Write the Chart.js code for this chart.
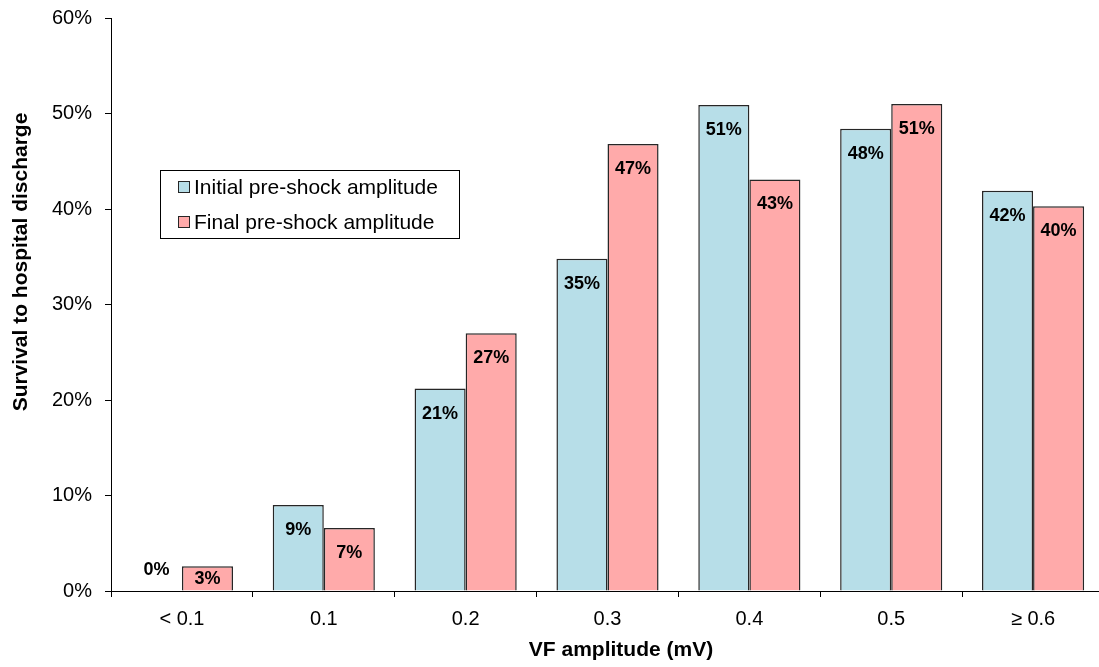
<!DOCTYPE html>
<html>
<head>
<meta charset="utf-8">
<script src="https://cdn.jsdelivr.net/npm/chart.js@4/dist/chart.umd.min.js"></script>
<style>
  html, body { margin: 0; padding: 0; background: #fff; overflow: hidden; }
  #wrap { width: 1104px; height: 667px; }
</style>
</head>
<body>
<div id="wrap"><canvas id="c" width="1104" height="667"></canvas></div>
<script>
// VF amplitude bins (mV)
const categories = ['< 0.1', '0.1', '0.2', '0.3', '0.4', '0.5', '\u2265 0.6'];
// Survival to hospital discharge (%) by amplitude bin
const initialAmplitude = [0, 9.0, 21.2, 34.8, 50.9, 48.4, 41.9];
const finalAmplitude = [2.6, 6.6, 27.0, 46.8, 43.1, 51.0, 40.3];
const seriesNames = ['Initial pre-shock amplitude', 'Final pre-shock amplitude'];
const yTicks = [0, 10, 20, 30, 40, 50, 60];

const FONT = "'Liberation Sans', Arial, sans-serif";
const BLUE = '#B7DEE8';
const PINK = '#FFAAAA';
const EDGE = '#262626';

// Percent labels drawn just inside the top of each bar
const valueLabels = {
  id: 'valueLabels',
  afterDatasetsDraw(chart) {
    const ctx = chart.ctx;
    ctx.save();
    ctx.font = 'bold 18px ' + FONT;
    ctx.fillStyle = '#000';
    ctx.textAlign = 'center';
    ctx.textBaseline = 'middle';
    chart.data.datasets.forEach((ds, di) => {
      chart.getDatasetMeta(di).data.forEach((el, i) => {
        const v = ds.data[i];
        let y;
        if (v === 0) y = el.base - 21;
        else y = Math.min(el.y + 25, el.base - 11);
        ctx.fillText(Math.round(v) + '%', el.x, y);
      });
    });
    ctx.restore();
  }
};

// Axis titles and the boxed legend inside the plot
const decorations = {
  id: 'decorations',
  afterDraw(chart) {
    const ctx = chart.ctx;
    ctx.save();
    ctx.fillStyle = '#000';
    ctx.font = 'bold 21px ' + FONT;
    ctx.textAlign = 'center';
    ctx.textBaseline = 'middle';
    ctx.fillText('VF amplitude (mV)', 621, 650);
    ctx.translate(21, 262);
    ctx.rotate(-Math.PI / 2);
    ctx.fillText('Survival to hospital discharge', 0, 0);
    ctx.restore();

    ctx.save();
    ctx.fillStyle = '#fff';
    ctx.fillRect(160.5, 170.5, 299, 68);
    ctx.strokeStyle = '#000';
    ctx.lineWidth = 1;
    ctx.strokeRect(160.5, 170.5, 299, 68);
    ctx.font = '21px ' + FONT;
    ctx.textAlign = 'left';
    ctx.textBaseline = 'middle';
    const rows = [187, 222];
    chart.data.datasets.forEach((ds, i) => {
      const y = rows[i];
      ctx.fillStyle = ds.backgroundColor;
      ctx.fillRect(178.5, y - 5.5, 11, 11);
      ctx.strokeStyle = EDGE;
      ctx.strokeRect(178.5, y - 5.5, 11, 11);
      ctx.fillStyle = '#000';
      ctx.fillText(ds.label, 194, y + 1);
    });
    ctx.restore();
  }
};

new Chart(document.getElementById('c'), {
  type: 'bar',
  data: {
    labels: categories,
    datasets: [
      { label: seriesNames[0], data: initialAmplitude, backgroundColor: BLUE, borderColor: EDGE, borderWidth: 1.5, borderSkipped: 'bottom' },
      { label: seriesNames[1], data: finalAmplitude, backgroundColor: PINK, borderColor: EDGE, borderWidth: 1.5, borderSkipped: 'bottom' }
    ]
  },
  options: {
    responsive: false,
    animation: false,
    devicePixelRatio: 1,
    layout: { padding: { top: 18, left: 0, right: 0, bottom: 0 } },
    plugins: { legend: { display: false }, tooltip: { enabled: false } },
    datasets: { bar: { categoryPercentage: 0.72, barPercentage: 1.0 } },
    scales: {
      x: {
        offset: true,
        grid: { offset: true, drawOnChartArea: false, drawTicks: true, tickLength: 6, color: '#000', lineWidth: 1 },
        border: { display: true, color: '#000', width: 1 },
        ticks: { color: '#000', font: { family: FONT, size: 20 }, padding: 10, maxRotation: 0 },
        afterFit(scale) { scale.height = 76; scale.paddingLeft = 0; scale.paddingRight = 0; }
      },
      y: {
        min: 0,
        max: 60,
        afterBuildTicks(scale) { scale.ticks = yTicks.map(v => ({ value: v })); },
        grid: { drawOnChartArea: false, drawTicks: true, tickLength: 6, color: '#000', lineWidth: 1 },
        border: { display: true, color: '#000', width: 1 },
        ticks: { color: '#000', font: { family: FONT, size: 20 }, padding: 13, callback: v => v + '%' },
        afterFit(scale) { scale.width = 111; scale.paddingTop = 0; scale.paddingBottom = 0; }
      }
    }
  },
  plugins: [valueLabels, decorations]
});
</script>
</body>
</html>
